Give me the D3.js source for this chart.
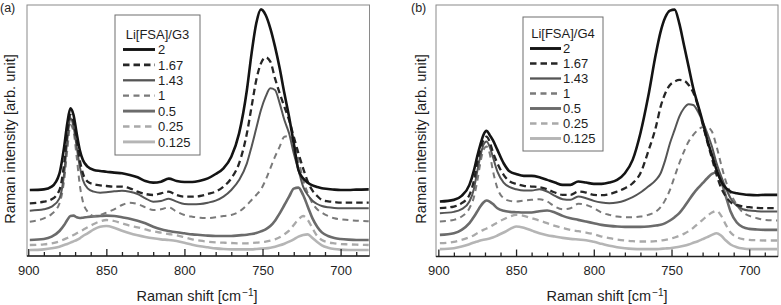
<!DOCTYPE html>
<html>
<head>
<meta charset="utf-8">
<script src="https://cdn.jsdelivr.net/npm/d3@7"></script>
<style>
  body { margin: 0; background: #fff; }
  text { font-family: "Liberation Sans", Arial, sans-serif; fill: #1e1e1e; }
</style>
</head>
<body>
<div id="chart"></div>
<script>
// Raman shift positions (cm-1) where the spectra were read
var shifts = [899,890,885,880,877,875,873,871,869,867, 865,862,858,854,850,845,840,835,830,825,
  820,815,810,805,800,795,790,785,780,775, 770,765,760,757,754,751,748,745,742,739,
  736,733,730,727,724,721,718,715,712,708, 704,700,695,690,682];

var ratios = ["2", "1.67", "1.43", "1", "0.5", "0.25", "0.125"];
var xTicks = [900, 850, 800, 750, 700];

// (a) Li[FSA]/G3, intensity in arb. unit
var g3_2 = [198,200,208,248,328,398,443,423,368,318, 288,268,258,255,253,250,248,243,236,225,
  220,223,232,225,222,222,226,233,246,263, 298,368,498,608,698,740,723,683,628,563,
  488,418,338,258,233,220,212,207,203,201, 199,198,198,199,200];
var g3_167 = [158,163,170,198,278,368,423,403,348,288, 248,223,215,212,210,208,208,203,193,186,
  183,188,193,183,178,178,180,186,193,208, 233,278,368,448,528,578,596,583,533,488,
  448,408,358,308,263,223,196,180,168,164, 162,160,160,160,160];
var g3_143 = [136,140,148,173,248,348,413,388,328,268, 228,203,193,190,191,194,196,193,186,173,
  163,165,172,163,156,155,156,160,166,178, 198,228,278,328,383,438,478,503,498,458,
  408,368,308,258,208,183,166,156,150,146, 144,143,143,143,143];
var g3_1 = [103,113,126,158,228,318,393,373,298,213, 163,133,120,123,130,140,153,160,156,146,
  138,140,146,133,123,118,115,114,116,120, 123,133,153,168,183,200,228,263,298,328,
  358,360,338,288,228,188,158,140,130,120, 113,110,108,106,104];
var g3_05 = [48,51,58,75,93,108,120,121,116,114, 115,117,119,120,121,120,116,112,106,98,
  88,80,75,71,68,65,63,61,60,60, 60,62,64,66,69,74,80,90,106,128,
  153,178,202,205,183,148,113,88,71,60, 54,51,49,48,48];
var g3_025 = [33,35,38,44,50,54,58,63,68,73, 78,86,96,104,108,105,98,91,86,80,
  74,70,66,62,56,50,46,43,41,40, 39,38,38,39,40,41,43,46,50,56,
  65,76,93,110,120,108,83,60,48,41, 38,36,35,34,33];
var g3_0125 = [18,20,23,28,33,36,40,44,48,53, 60,68,80,88,90,85,76,68,62,57,
  53,50,48,45,40,34,29,26,23,21, 20,20,20,20,21,22,23,25,28,32,
  37,43,50,58,63,65,54,42,32,25, 21,19,18,18,18];

// (b) Li[FSA]/G4
var g4_2 = [165,170,182,215,260,300,335,365,377,365, 350,320,280,255,248,242,242,238,230,222,
  215,215,225,222,218,218,222,230,250,290, 370,480,610,675,718,738,741,700,635,570,
  505,455,405,350,305,260,225,205,195,190, 187,185,184,185,185];
var g4_167 = [145,150,160,185,230,280,320,350,360,345, 315,280,245,225,218,212,210,208,202,192,
  185,185,195,192,185,184,187,195,205,220, 250,315,390,450,490,515,525,530,528,515,
  492,452,398,345,295,245,205,180,163,155, 150,148,146,145,145];
var g4_143 = [130,134,142,165,205,255,300,335,345,330, 300,255,222,208,202,198,198,202,195,182,
  172,170,180,175,167,162,160,162,168,178, 192,210,230,250,290,340,380,420,445,457,
  455,435,405,370,330,280,240,205,175,152, 142,138,136,135,135];
var g4_1 = [105,110,120,145,180,225,280,320,330,310, 260,205,175,167,165,168,170,172,165,150,
  142,145,158,155,145,132,125,120,118,118, 120,125,135,148,170,200,240,280,315,345,
  365,380,388,388,375,330,275,225,190,155, 132,122,115,110,108];
var g4_05 = [65,70,80,100,120,135,150,162,168,165, 158,145,137,134,133,132,132,136,138,132,
  122,115,110,105,100,95,92,90,89,89, 89,90,93,95,100,108,118,130,148,168,
  188,205,220,235,248,252,225,180,135,102, 88,83,81,80,80];
var g4_025 = [40,44,50,58,64,70,75,80,84,88, 94,102,112,120,125,122,115,108,100,92,
  86,80,76,72,67,60,55,51,48,46, 45,45,46,48,50,53,57,62,68,76,
  86,98,110,122,132,137,122,95,72,58, 52,50,49,48,48];
var g4_0125 = [22,25,30,37,42,45,48,50,52,54, 57,63,72,82,90,86,78,70,64,60,
  56,53,51,49,44,38,32,28,25,23, 22,22,22,23,24,25,27,29,32,36,
  41,46,52,58,65,70,62,48,36,28, 24,22,22,22,22];

var g3Values = [g3_2, g3_167, g3_143, g3_1, g3_05, g3_025, g3_0125];
var g4Values = [g4_2, g4_167, g4_143, g4_1, g4_05, g4_025, g4_0125];

// line styles, one per ratio
var lineColor = ["#141414", "#262626", "#555555", "#7a7a7a", "#6b6b6b", "#a9a9a9", "#b5b5b5"];
var lineWidth = [2.6, 2.3, 2, 2, 2.6, 2.3, 2.6];
var lineDash = [null, "6.5,4", null, "6,4.5", null, "6.5,4.5", null];

var w = 781;
var h = 305;

var svg = d3.select("#chart")
  .append("svg")
  .attr("width", w)
  .attr("height", h);

function drawPanel(p) {
  var xScale = d3.scaleLinear().domain(p.xDomain).range([p.left, p.right]);
  var yScale = d3.scaleLinear().domain([0, p.yMax]).range([p.bottom, p.top]);
  var g = svg.append("g");

  g.append("clipPath").attr("id", "clip-" + p.id)
    .append("rect")
    .attr("x", p.left).attr("y", p.top)
    .attr("width", p.right - p.left).attr("height", p.bottom - p.top);

  g.append("rect")
    .attr("x", p.left).attr("y", p.top)
    .attr("width", p.right - p.left).attr("height", p.bottom - p.top)
    .attr("fill", "none")
    .attr("stroke", "#8a8a8a")
    .attr("stroke-width", 1);

  var line = d3.line()
    .x(function(d, i) { return xScale(shifts[i]); })
    .y(function(d) { return yScale(d); })
    .curve(d3.curveMonotoneX);

  // lightest first so the black spectrum ends up on top
  var order = d3.range(p.values.length).reverse();
  g.append("g")
    .attr("clip-path", "url(#clip-" + p.id + ")")
    .selectAll("path")
    .data(order)
    .join("path")
    .attr("d", function(i) { return line(p.values[i]); })
    .attr("fill", "none")
    .attr("stroke", function(i) { return lineColor[i]; })
    .attr("stroke-width", function(i) { return lineWidth[i]; })
    .attr("stroke-dasharray", function(i) { return lineDash[i]; })
    .attr("stroke-linejoin", "round");

  // inward ticks on the bottom axis
  var minorTicks = d3.range(690, 901, 10).filter(function(v) { return v % 50 != 0; });
  var minorAxis = d3.axisBottom(xScale).tickValues(minorTicks).tickSize(-4).tickFormat("");
  var majorAxis = d3.axisBottom(xScale).tickValues(xTicks).tickSize(-7).tickPadding(9.5);

  g.append("g")
    .attr("transform", "translate(0," + p.bottom + ")")
    .call(minorAxis)
    .call(function(s) { s.select(".domain").remove(); });

  var ax = g.append("g")
    .attr("transform", "translate(0," + p.bottom + ")")
    .call(majorAxis)
    .call(function(s) { s.select(".domain").remove(); });
  ax.selectAll("text").attr("font-size", 13).attr("fill", "#1e1e1e")
    .attr("font-family", "Liberation Sans, Arial, sans-serif");
  g.selectAll(".tick line").attr("stroke", "#222").attr("stroke-width", 1.3);

  g.append("line")
    .attr("x1", p.left).attr("x2", p.right)
    .attr("y1", p.bottom).attr("y2", p.bottom)
    .attr("stroke", "#222").attr("stroke-width", 1.6);

  // axis titles
  var xt = g.append("text")
    .attr("x", p.xTitleX).attr("y", 301)
    .attr("text-anchor", "middle")
    .attr("font-size", 14.5);
  xt.append("tspan").text("Raman shift [cm");
  xt.append("tspan").attr("font-size", 10).attr("dx", 1).attr("dy", -5.5).text("\u22121");
  xt.append("tspan").attr("dy", 5.5).text("]");

  g.append("text")
    .attr("transform", "translate(" + p.yTitleX + "," + 139 + ") rotate(-90)")
    .attr("text-anchor", "middle")
    .attr("font-size", 14.6)
    .text("Raman intensity [arb. unit]");

  g.append("text")
    .attr("x", p.letterX).attr("y", 11.5)
    .attr("font-size", 12.5)
    .text(p.letter);

  // legend
  var lg = p.legend;
  g.append("rect")
    .attr("x", lg.x).attr("y", lg.y)
    .attr("width", lg.w).attr("height", lg.h)
    .attr("fill", "#fff")
    .attr("stroke", "#6e6e6e")
    .attr("stroke-width", 1);
  g.append("text")
    .attr("x", lg.x + lg.w / 2).attr("y", lg.titleY)
    .attr("text-anchor", "middle")
    .attr("font-size", 13)
    .text(lg.title);

  var rows = g.selectAll(".row")
    .data(ratios)
    .join("g")
    .attr("class", "row")
    .attr("transform", function(d, i) { return "translate(0," + (lg.rowY + i * lg.rowStep) + ")"; });
  rows.append("line")
    .attr("x1", lg.lineX0).attr("x2", lg.lineX1)
    .attr("stroke", function(d, i) { return lineColor[i]; })
    .attr("stroke-width", function(d, i) { return lineWidth[i] + 0.3; })
    .attr("stroke-dasharray", function(d, i) { return lineDash[i]; });
  rows.append("text")
    .attr("x", lg.textX)
    .attr("dy", "0.36em")
    .attr("font-size", 13)
    .text(function(d) { return d; });
}

drawPanel({
  id: "a", letter: "(a)", letterX: 0,
  left: 27, right: 369.5, top: 5, bottom: 256,
  xDomain: [900.8, 681.5], yMax: 753,
  values: g3Values,
  xTitleX: 197, yTitleX: 14.5,
  legend: { x: 115, y: 15, w: 85, h: 140, title: "Li[FSA]/G3", titleY: 38.5,
    rowY: 49.5, rowStep: 15.4, lineX0: 123, lineX1: 155, textX: 158 }
});

drawPanel({
  id: "b", letter: "(b)", letterX: 411,
  left: 436, right: 778, top: 5, bottom: 256.5,
  xDomain: [901.5, 681.5], yMax: 755,
  values: g4Values,
  xTitleX: 607, yTitleX: 425.5,
  legend: { x: 523, y: 17, w: 80, h: 134, title: "Li[FSA]/G4", titleY: 38,
    rowY: 48.5, rowStep: 15, lineX0: 530, lineX1: 561, textX: 563 }
});
</script>
</body>
</html>
